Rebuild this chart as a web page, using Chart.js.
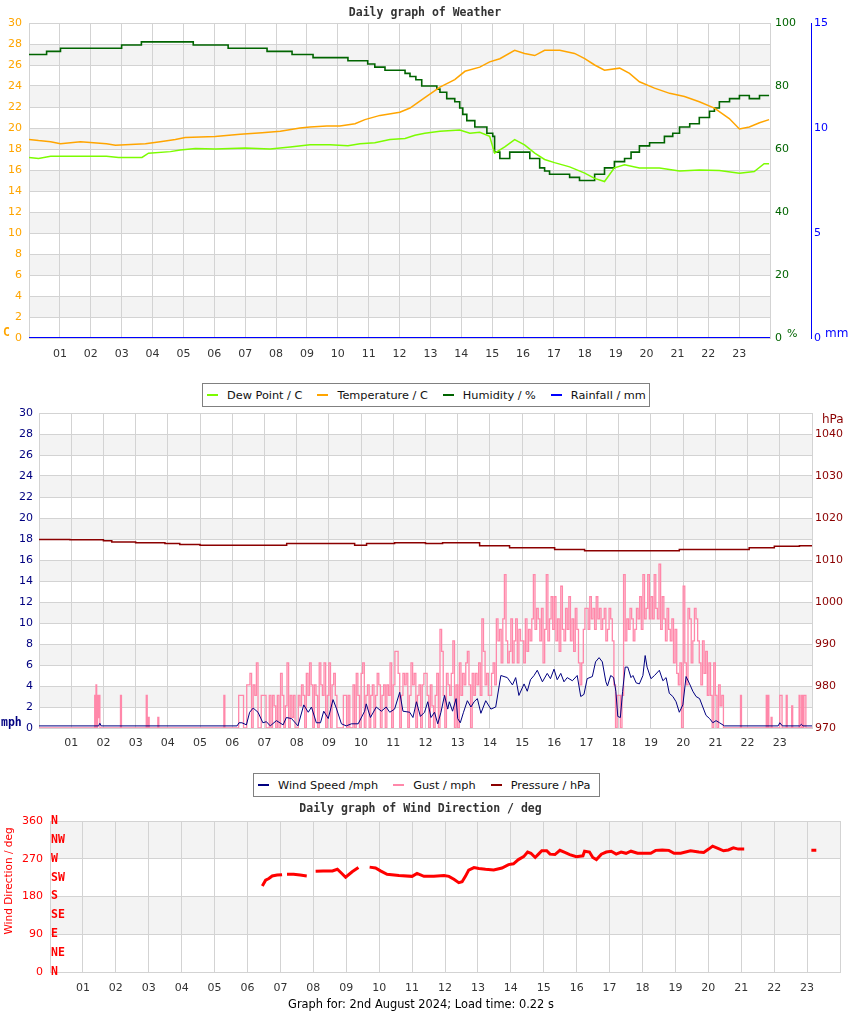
<!DOCTYPE html>
<html>
<head>
<meta charset="utf-8">
<script src="https://cdn.jsdelivr.net/npm/chart.js@4.4.1/dist/chart.umd.min.js"></script>
<style>
  body { margin: 0; background: #fff; }
  #page { position: relative; width: 850px; height: 1017px; overflow: hidden; font-family: "DejaVu Sans", sans-serif; }
  canvas { position: absolute; left: 0; }
  .legend { position: absolute; box-sizing: border-box; height: 24px; border: 1px solid #808080; background: #fff; z-index: 2;
            display: flex; align-items: center; padding-left: 4px; font-size: 11.3px; color: #111; white-space: nowrap; }
  .legend span { display: flex; align-items: center; margin-right: 15px; }
  .legend i { display: inline-block; width: 11px; height: 2px; margin-right: 9px; }
  .unit { position: absolute; font-size: 11px; line-height: 1; white-space: nowrap; z-index: 3; }
  .mono { font-family: "DejaVu Sans Mono", monospace; font-weight: bold; font-size: 11.5px; }
  #dirTitle { position: absolute; left: 8px; top: 881px; transform: translate(-50%, -50%) rotate(-90deg);
              font-size: 10.5px; color: #f00; white-space: nowrap; }
  #footer { position: absolute; left: 0; width: 842px; top: 997px; text-align: center; font-size: 11.4px; color: #000; }
</style>
</head>
<body>
<div id="page">
  <canvas id="weather" width="850" height="370" style="top:0"></canvas>
  <canvas id="wind" width="850" height="374" style="top:385px"></canvas>
  <canvas id="direction" width="850" height="200" style="top:798px"></canvas>

  <div class="legend" id="legend1" style="left:202px; top:383px; width:448px"></div>
  <div class="legend" id="legend2" style="left:253px; top:773px; width:347px"></div>

  <span class="unit mono" style="left:3px; top:327px; color:#ffa500">C</span>
  <span class="unit" style="left:787px; top:328px; color:#006400">%</span>
  <span class="unit" style="left:825px; top:327px; color:#0000ff; font-size:12px">mm</span>
  <span class="unit" style="left:822px; top:413px; color:#8b0000; font-size:12px">hPa</span>
  <span class="unit mono" style="left:1px; top:717px; color:#000080">mph</span>
  <div id="dirTitle">Wind Direction / deg</div>
  <div id="footer">Graph for: 2nd August 2024; Load time: 0.22 s</div>
</div>

<script>
// x axis: hours of the day
const hourLabels = Array.from({ length: 25 }, (_, h) => (h >= 1 && h <= 23 ? String(h).padStart(2, "0") : ""));

// [hour, value]
const dewPoint = [[0,17.2],[0.31,17.1],[0.7,17.3],[2.51,17.3],[2.9,17.2],[3.66,17.2],[3.87,17.6],[4.58,17.75],[4.9,17.9],
  [5.39,18.05],[6.03,18.0],[7.0,18.1],[7.81,18.0],[8.46,18.2],[9.1,18.4],[9.75,18.4],[10.33,18.3],[10.72,18.5],[11.2,18.6],
  [11.69,18.9],[12.18,19.0],[12.5,19.3],[12.82,19.5],[13.31,19.7],[13.95,19.8],[14.28,19.5],[14.6,19.6],[14.92,19.2],
  [15.08,17.6],[15.41,18.2],[15.73,18.9],[16.05,18.4],[16.38,17.6],[16.7,17.0],[17.02,16.7],[17.51,16.3],[18.0,15.7],
  [18.32,15.2],[18.64,14.9],[18.96,16.2],[19.29,16.5],[19.77,16.2],[20.42,16.2],[21.07,15.9],[21.71,16.0],[22.36,15.95],
  [23.01,15.7],[23.49,15.85],[23.81,16.6],[23.97,16.6]];

const temperature = [[0,18.9],[0.31,18.8],[0.7,18.7],[1.02,18.5],[1.67,18.7],[2.51,18.5],[2.8,18.35],[3.77,18.5],[4.25,18.7],
  [4.74,18.9],[5.06,19.1],[6.03,19.2],[6.84,19.4],[7.55,19.55],[8.14,19.7],[8.78,20.0],[9.1,20.1],[9.65,20.2],[10.07,20.2],
  [10.56,20.4],[10.88,20.8],[11.37,21.2],[12.01,21.5],[12.34,21.9],[12.82,22.9],[13.31,23.9],[13.79,24.6],[14.12,25.4],
  [14.6,25.8],[14.92,26.3],[15.25,26.6],[15.73,27.4],[16.05,27.1],[16.38,26.9],[16.7,27.4],[17.19,27.4],[17.67,27.1],
  [18.0,26.6],[18.32,26.0],[18.64,25.5],[19.13,25.7],[19.45,25.2],[19.77,24.4],[20.26,23.8],[20.75,23.3],[21.23,23.0],
  [21.71,22.5],[22.2,21.9],[22.68,20.9],[23.01,19.9],[23.33,20.1],[23.66,20.5],[23.97,20.8]];

// humidity steps: [hour of change, new value]
const humidity = [[0,90],[0.57,91],[1.02,92],[3.0,93],[3.64,94],[5.32,93],[6.45,92],[7.71,91],[8.52,90],[9.2,89],[10.33,88],
  [10.97,87],[11.2,86],[11.53,85],[12.18,84],[12.34,83],[12.53,82],[12.72,80],[13.21,79],[13.31,78],[13.53,76],[13.79,75],
  [13.95,73],[14.05,71],[14.18,69],[14.44,67],[14.83,65],[15.02,64],[15.08,59],[15.25,57],[15.57,59],[16.22,57],[16.54,54],
  [16.7,53],[16.86,52],[17.51,51],[17.83,50],[18.32,52],[18.64,54],[18.96,56],[19.29,57],[19.5,59],[19.77,61],[20.1,62],
  [20.58,64],[20.85,65],[21.07,67],[21.4,68],[21.71,70],[22.04,72],[22.2,73],[22.36,75],[22.69,76],[23.01,77],[23.33,76],
  [23.66,77],[23.97,77]];

const rainfall = [[0,0],[24,0]];

// wind graph
const windSpeed = [[0,0.2],[1.85,0.2],[1.89,0.45],[1.93,0.2],[6.15,0.2],[6.21,0.5],[6.3,0.5],[6.44,0.3],[6.54,1.5],[6.65,1.9],
  [6.8,1.5],[6.95,0.5],[7.06,0.6],[7.18,0.2],[7.37,0.7],[7.58,0.3],[7.68,1.0],[7.84,0.9],[8.04,0.2],[8.22,2.2],[8.36,1.5],
  [8.46,2.0],[8.61,0.5],[8.74,0.5],[8.84,1.6],[8.98,0.9],[9.13,2.7],[9.23,1.9],[9.39,0.4],[9.54,0.2],[9.7,0.4],[9.91,0.4],
  [10.11,1.6],[10.16,2.3],[10.29,1.0],[10.47,2.0],[10.63,1.6],[10.78,2.0],[10.89,1.5],[11.04,1.8],[11.2,3.4],[11.3,1.6],
  [11.51,1.5],[11.61,1.0],[11.72,2.5],[11.84,1.1],[11.97,1.5],[12.07,2.5],[12.17,1.0],[12.28,1.5],[12.38,0.4],[12.48,1.5],
  [12.59,3.1],[12.69,1.8],[12.74,2.5],[12.84,1.6],[12.95,2.8],[13.0,0.9],[13.08,0.5],[13.18,1.5],[13.3,2.6],[13.41,2.0],
  [13.51,2.5],[13.61,2.8],[13.72,1.4],[13.87,2.6],[14.03,1.8],[14.18,2.0],[14.34,5.0],[14.54,4.8],[14.7,4.1],[14.8,4.8],
  [14.9,3.1],[15.06,4.2],[15.16,3.5],[15.26,4.6],[15.37,5.0],[15.47,5.5],[15.63,4.4],[15.78,5.2],[15.88,4.7],[15.99,5.6],
  [16.09,4.6],[16.2,5.2],[16.3,4.4],[16.4,4.8],[16.56,4.5],[16.71,5.0],[16.82,3.0],[16.92,3.2],[17.02,4.7],[17.18,4.9],
  [17.28,6.3],[17.39,6.7],[17.49,6.3],[17.6,4.4],[17.65,4.0],[17.75,5.0],[17.84,4.8],[17.91,3.5],[17.97,1.1],[18.05,1.0],
  [18.12,3.5],[18.2,5.8],[18.28,5.8],[18.38,4.8],[18.44,5.0],[18.54,4.3],[18.64,4.2],[18.75,5.0],[18.82,6.9],[18.88,5.8],
  [19.0,4.7],[19.11,5.0],[19.26,5.5],[19.37,4.5],[19.47,4.8],[19.57,3.3],[19.68,3.0],[19.78,2.5],[19.88,1.5],[19.99,2.2],
  [20.09,4.9],[20.2,4.2],[20.3,3.5],[20.4,3.0],[20.51,2.8],[20.61,2.0],[20.71,1.2],[20.82,0.9],[20.92,0.5],[21.02,0.7],
  [21.13,0.5],[21.28,0.2],[22.95,0.2],[23.0,0.5],[23.08,0.2],[23.62,0.2],[23.67,0.35],[23.72,0.2],[24,0.2]];

const gustEarly = [[0,0],[1.7,0],[1.73,3.1],[1.75,0],[1.77,4.1],[1.79,0],[1.82,3.1],[1.84,1.0],[1.86,3.1],[1.89,0],
  [2.5,0],[2.53,3.1],[2.56,0],[3.3,0],[3.33,3.1],[3.36,0],[3.39,1.0],[3.42,0],[3.66,0],[3.69,1.0],[3.72,0],
  [5.71,0],[5.74,3.1],[5.77,0]];
// gusts every 3 minutes from 06:00, one row per hour
const gustStart = 6.0;
const gustStep = 0.05;
const gustDay = [
  0, 0, 0, 0, 3.1, 3.1, 3.1, 0, 0, 4.1, 4.1, 5.2, 0, 4.1, 3.1, 6.2, 0, 0, 3.1, 3.1,
  3.1, 0, 0, 3.1, 0, 3.1, 2.1, 0, 3.1, 0, 5.2, 3.1, 0, 2.1, 6.2, 0, 3.1, 1.0, 3.1, 0,
  0, 3.1, 2.1, 4.1, 3.1, 0, 5.2, 3.1, 6.2, 4.1, 0, 4.1, 3.1, 0, 6.2, 4.1, 3.1, 6.2, 0, 3.1,
  6.2, 0, 4.1, 5.2, 3.1, 0, 0, 0, 0, 3.1, 3.1, 0, 3.1, 0, 0, 4.1, 0, 5.2, 3.1, 0,
  5.2, 6.2, 0, 3.1, 4.1, 0, 3.1, 4.1, 0, 3.1, 5.2, 4.1, 0, 3.1, 4.1, 0, 4.1, 3.1, 6.2, 0,
  4.1, 7.3, 7.3, 5.2, 0, 3.1, 5.2, 4.1, 5.2, 0, 3.1, 6.2, 4.1, 5.2, 0, 3.1, 4.1, 0, 4.1, 5.2,
  5.2, 3.1, 0, 4.1, 2.1, 0, 3.1, 5.2, 0, 9.4, 7.3, 3.1, 0, 5.2, 4.1, 3.1, 5.2, 8.3, 0, 4.1,
  0, 6.2, 3.1, 5.2, 4.1, 6.2, 7.3, 4.1, 0, 5.2, 3.1, 5.2, 4.1, 6.2, 3.1, 10.4, 7.3, 4.1, 5.2, 3.1,
  3.1, 5.2, 6.2, 4.1, 10.4, 8.3, 9.4, 6.2, 10.4, 14.6, 8.3, 6.2, 7.3, 10.4, 6.2, 8.3, 10.4, 6.2, 9.4, 8.3,
  8.3, 6.2, 10.4, 7.3, 9.4, 8.3, 10.4, 14.6, 9.4, 11.4, 10.4, 8.3, 11.4, 6.2, 9.4, 14.6, 8.3, 10.4, 12.5, 9.4,
  12.5, 8.3, 10.4, 7.3, 13.5, 9.4, 8.3, 11.4, 9.4, 12.5, 8.3, 10.4, 7.3, 11.4, 9.4, 6.2, 4.1, 6.2, 9.4, 11.4,
  11.4, 9.4, 12.5, 10.4, 11.4, 9.4, 12.5, 10.4, 11.4, 9.4, 10.4, 11.4, 8.3, 9.4, 11.4, 10.4, 8.3, 4.1, 0, 3.1,
  3.1, 0, 3.1, 14.6, 8.3, 10.4, 9.4, 11.4, 10.4, 8.3, 9.4, 11.4, 10.4, 12.5, 9.4, 14.6, 10.4, 11.4, 14.6, 10.4,
  12.5, 10.4, 14.6, 11.4, 10.4, 15.6, 9.4, 12.5, 10.4, 8.3, 11.4, 9.4, 8.3, 10.4, 6.2, 9.4, 5.2, 4.1, 6.2, 0,
  13.5, 6.2, 4.1, 11.4, 10.4, 6.2, 8.3, 11.4, 10.4, 8.3, 6.2, 4.1, 8.3, 5.2, 7.3, 3.1, 6.2, 3.1, 0, 6.2,
  3.1, 0, 4.1, 2.1, 3.1, 0, 0, 0, 0, 0];
const gustLate = [[21.75,0],[21.78,3.1],[21.81,0],[22.55,0],[22.58,3.1],[22.61,0],[22.63,3.1],[22.66,0],[22.7,0],[22.73,1.0],
  [22.76,0],[22.97,0],[23.0,3.1],[23.04,3.1],[23.07,0],[23.17,0],[23.2,3.1],[23.23,0],[23.34,0],[23.37,2.1],[23.4,0],
  [23.57,0],[23.6,3.1],[23.63,0],[23.68,3.1],[23.71,0],[23.75,3.1],[23.78,3.1],[23.81,0],[24,0]];

const pressure = [[0,1014.9],[0.96,1014.8],[2.0,1014.6],[2.26,1014.3],[3.0,1014.1],[3.91,1013.9],[4.37,1013.7],[5.0,1013.5],
  [7.0,1013.5],[7.69,1013.9],[9.34,1013.9],[9.8,1013.5],[10.17,1013.9],[11.04,1014.1],[12.0,1013.9],[12.53,1014.1],
  [13.68,1013.4],[14.61,1012.9],[15.54,1012.9],[16.01,1012.5],[16.94,1012.2],[18.18,1012.2],[19.66,1012.2],[19.88,1012.5],
  [20.82,1012.5],[22.05,1012.9],[22.83,1013.3],[23.61,1013.4],[24,1013.4]];

// wind direction, null = no reading
const windDir = [[6.45,205],[6.55,219],[6.65,223],[6.75,229],[6.9,231],[7.05,232],[7.12,null],[7.2,233],[7.4,233],[7.6,231],
  [7.8,229],[7.95,null],[8.07,240],[8.3,241],[8.58,241],[8.73,245],[8.85,236],[8.98,226],[9.18,239],[9.37,249],[9.55,null],
  [9.71,250],[9.89,248],[10.04,241],[10.24,233],[10.6,230],[11.0,228],[11.15,235],[11.36,228],[11.66,228],[11.97,230],
  [12.12,228],[12.27,221],[12.42,213],[12.52,215],[12.62,228],[12.72,243],[12.88,249],[13.03,247],[13.23,245],[13.48,243],
  [13.73,248],[13.93,256],[14.08,258],[14.23,268],[14.39,275],[14.51,286],[14.61,283],[14.74,273],[14.84,281],[14.94,289],
  [15.09,289],[15.19,281],[15.34,280],[15.49,290],[15.64,285],[15.79,280],[15.99,275],[16.19,277],[16.24,288],[16.39,286],
  [16.49,273],[16.6,268],[16.75,281],[16.9,286],[17.05,288],[17.2,281],[17.35,286],[17.5,283],[17.65,288],[17.85,283],
  [18.05,283],[18.25,283],[18.4,290],[18.6,291],[18.8,290],[18.96,283],[19.16,283],[19.31,286],[19.46,289],[19.71,286],
  [19.86,285],[20.01,293],[20.13,300],[20.31,294],[20.46,289],[20.61,291],[20.76,296],[20.91,293],[21.09,293],[21.5,null],
  [23.13,290],[23.28,290]];

const compassDeg = [0, 45, 90, 135, 180, 225, 270, 315, 360];
const compassLabels = ["N", "NE", "E", "SE", "S", "SW", "W", "NW", "N"];

const bandsTemp = [[2,4],[6,8],[10,12],[14,16],[18,20],[22,24],[26,28]];
const bandsDir = [[90,180],[270,360]];

const GRID = "#d3d3d3";
Chart.defaults.font.family = '"DejaVu Sans", sans-serif';

const xy = a => a.map(([x, y]) => ({ x, y }));
const gust = gustEarly
  .concat(gustDay.map((v, i) => [Math.round((gustStart + i * gustStep) * 1000) / 1000, v]))
  .concat(gustLate);

// alternating grey bands behind the grid
const bandPlugin = {
  id: "bands",
  beforeDraw(chart, args, opts) {
    const { ctx, chartArea: a } = chart;
    const s = chart.scales[opts.axis];
    ctx.save();
    ctx.fillStyle = "#f3f3f3";
    opts.ranges.forEach(([lo, hi]) => {
      const top = s.getPixelForValue(hi), bot = s.getPixelForValue(lo);
      ctx.fillRect(a.left, top, a.right - a.left, bot - top);
    });
    ctx.restore();
  }
};

const compassPlugin = {
  id: "compass",
  afterDraw(chart) {
    const { ctx, chartArea: a } = chart;
    const s = chart.scales.y;
    ctx.save();
    ctx.fillStyle = "#ff0000";
    ctx.font = 'bold 11.5px "DejaVu Sans Mono"';
    ctx.textBaseline = "middle";
    compassLabels.forEach((lab, i) => ctx.fillText(lab, a.left + 1, s.getPixelForValue(compassDeg[i])));
    ctx.restore();
  }
};

function titleOpts(text, top, bottom) {
  return { display: true, text, color: "#333", padding: { top, bottom },
           font: { family: '"DejaVu Sans Mono", monospace', size: 11.5, weight: "bold" } };
}

function hourAxis(height, pad) {
  return {
    type: "linear", min: 0, max: 24,
    ticks: { stepSize: 1, autoSkip: false, maxRotation: 0, color: "#333", font: { size: 11 }, padding: pad,
             callback: v => hourLabels[v] || "" },
    grid: { color: GRID, drawTicks: false },
    border: { color: GRID },
    afterFit: s => { s.height = height; }
  };
}

function valueAxis(position, min, max, step, color, width, pad, gridOn) {
  return {
    position, min, max,
    ticks: { stepSize: step, color, font: { size: 11 }, padding: pad, callback: v => String(v) },
    grid: { display: gridOn, color: GRID, drawTicks: false },
    border: { display: gridOn, color: GRID },
    afterFit: s => { s.width = width; }
  };
}

const base = {
  responsive: false, animation: false, devicePixelRatio: 1, events: [],
  elements: { point: { radius: 0 }, line: { tension: 0 } }
};

const weatherChart = new Chart(document.getElementById("weather"), {
  type: "line",
  data: {
    datasets: [
      { label: "Dew Point / C", data: xy(dewPoint), borderColor: "#7cfc00", borderWidth: 1.5, yAxisID: "y" },
      { label: "Temperature / C", data: xy(temperature), borderColor: "#ffa500", borderWidth: 1.5, yAxisID: "y" },
      { label: "Humidity / %", data: xy(humidity), borderColor: "#006400", borderWidth: 1.6, stepped: true, yAxisID: "yHum" },
      { label: "Rainfall / mm", data: xy(rainfall), borderColor: "#0000ff", borderWidth: 2, yAxisID: "yRain" }
    ]
  },
  options: {
    ...base,
    layout: { padding: { bottom: 2 } },
    plugins: {
      legend: { display: false }, tooltip: { enabled: false },
      title: titleOpts("Daily graph of Weather", 6, 3.2),
      bands: { axis: "y", ranges: bandsTemp }
    },
    scales: {
      x: hourAxis(30, 10),
      y: valueAxis("left", 0, 30, 2, "#ffa500", 29, 7, true),
      yHum: { ...valueAxis("right", 0, 100, 20, "#006400", 41, 5, false), weight: 0 },
      yRain: { ...valueAxis("right", 0, 15, 5, "#0000ff", 39, 3, false), weight: 1,
               border: { display: true, color: "#0000ff" } }
    }
  },
  plugins: [bandPlugin]
});

const windChart = new Chart(document.getElementById("wind"), {
  type: "line",
  data: {
    datasets: [
      { label: "Wind Speed /mph", data: xy(windSpeed), borderColor: "#000080", borderWidth: 1, yAxisID: "y" },
      { label: "Gust / mph", data: xy(gust), borderColor: "#ff88aa", borderWidth: 1.3, stepped: true, yAxisID: "y" },
      { label: "Pressure / hPa", data: xy(pressure), borderColor: "#8b0000", borderWidth: 1.5, stepped: true, yAxisID: "yP" }
    ]
  },
  options: {
    ...base,
    plugins: {
      legend: { display: false }, tooltip: { enabled: false },
      title: titleOpts("Daily graph of Weather", 9.1, 5.1),
      bands: { axis: "y", ranges: bandsTemp }
    },
    scales: {
      x: hourAxis(31, 9),
      y: valueAxis("left", 0, 30, 2, "#000080", 39, 6, true),
      yP: { ...valueAxis("right", 970, 1045, 10, "#8b0000", 38, 3, false),
            afterBuildTicks: s => { s.ticks = s.ticks.filter(t => t.value % 10 === 0); } }
    }
  },
  plugins: [bandPlugin]
});

const dirChart = new Chart(document.getElementById("direction"), {
  type: "line",
  data: {
    datasets: [
      { label: "Wind Direction / deg", data: xy(windDir), borderColor: "#ff0000", borderWidth: 3, spanGaps: false }
    ]
  },
  options: {
    ...base,
    layout: { padding: { right: 9 } },
    plugins: {
      legend: { display: false }, tooltip: { enabled: false },
      title: titleOpts("Daily graph of Wind Direction / deg", 4.1, 5.1),
      bands: { axis: "y", ranges: bandsDir }
    },
    scales: {
      x: hourAxis(26, 10),
      y: valueAxis("left", 0, 360, 90, "#ff0000", 50, 7, true)
    }
  },
  plugins: [bandPlugin, compassPlugin]
});

// legend boxes from the datasets
function buildLegend(id, chart) {
  const box = document.getElementById(id);
  chart.data.datasets.forEach(ds => {
    const item = document.createElement("span");
    const mark = document.createElement("i");
    mark.style.background = ds.borderColor;
    item.appendChild(mark);
    item.appendChild(document.createTextNode(ds.label));
    box.appendChild(item);
  });
}
buildLegend("legend1", weatherChart);
buildLegend("legend2", windChart);
</script>
</body>
</html>
